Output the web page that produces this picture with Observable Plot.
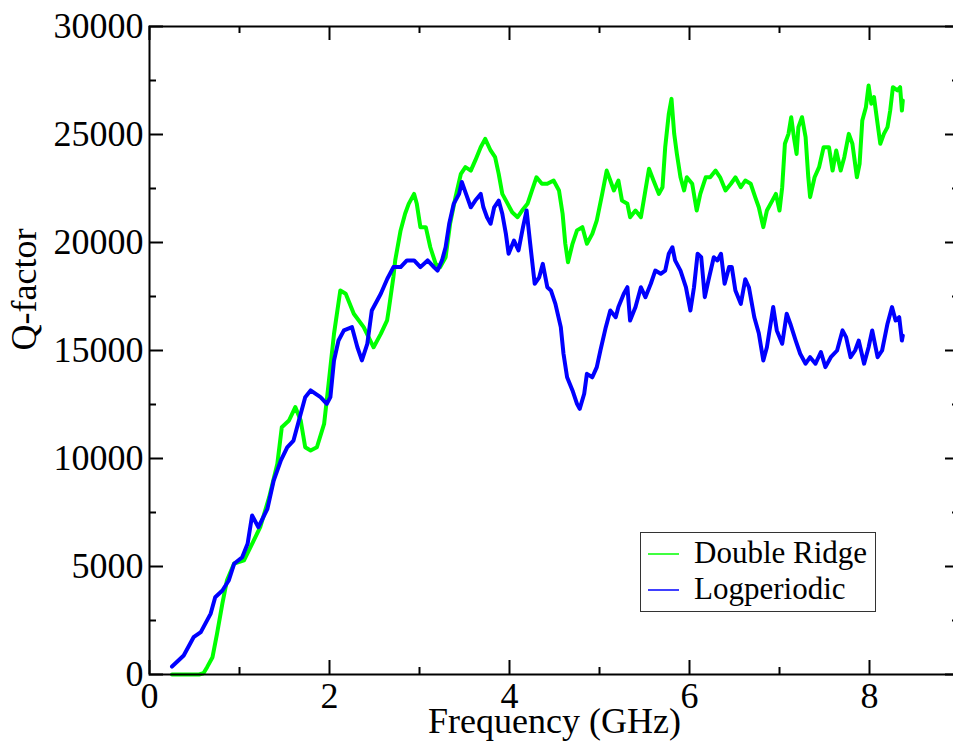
<!DOCTYPE html>
<html><head><meta charset="utf-8">
<script src="https://cdn.jsdelivr.net/npm/d3@7"></script>
<script src="https://cdn.jsdelivr.net/npm/@observablehq/plot@0.6"></script>
<style>
html,body{margin:0;padding:0;background:#fff;overflow:hidden}
#wrap{position:relative;width:953px;height:749px;overflow:hidden}
#legend{position:absolute;left:640px;top:532px;width:234px;height:78px;border:1.5px solid #333;background:#fff}
</style></head><body><div id="wrap"></div><script>
// Series names and colours
const seriesNames = ["Double Ridge", "Logperiodic"];
const seriesColors = ["#00ff00", "#0000ff"];

// Double Ridge (green) : frequency (GHz) and Q-factor
const freqDR = [0.25,0.40,0.55,0.60,0.64,0.70,0.75,0.81,0.86,0.94,1.05,1.14,1.23,1.33,1.42,1.47,1.55,1.62,1.68,1.73,1.79,1.86,1.94,1.99,2.05,2.12,2.18,2.27,2.38,2.49,2.57,2.64,2.66,2.71,2.73,2.79,2.84,2.88,2.94,2.97,3.01,3.07,3.12,3.18,3.23,3.29,3.34,3.40,3.46,3.51,3.57,3.62,3.68,3.73,3.79,3.84,3.88,3.92,3.97,4.03,4.09,4.14,4.20,4.25,4.30,4.36,4.42,4.49,4.55,4.59,4.62,4.65,4.70,4.75,4.81,4.86,4.92,4.97,5.03,5.08,5.12,5.16,5.21,5.25,5.31,5.34,5.40,5.46,5.51,5.55,5.60,5.66,5.70,5.73,5.77,5.80,5.83,5.86,5.90,5.94,5.97,6.03,6.08,6.12,6.18,6.23,6.29,6.34,6.40,6.46,6.51,6.57,6.62,6.68,6.73,6.77,6.82,6.86,6.92,6.96,7.00,7.03,7.06,7.10,7.13,7.16,7.19,7.21,7.25,7.29,7.32,7.34,7.39,7.44,7.49,7.55,7.59,7.63,7.68,7.72,7.77,7.81,7.84,7.86,7.89,7.92,7.96,7.99,8.02,8.05,8.09,8.12,8.16,8.20,8.23,8.26,8.31,8.34,8.36,8.37];
const qDR = [0,0,0,60,340,800,1880,3290,4350,5140,5280,6050,6820,8210,9750,11450,11760,12380,11760,10520,10370,10520,11600,13460,15770,17780,17630,16700,16080,15150,15770,16390,16930,18400,19170,20560,21330,21790,22250,21790,20710,20710,19780,19010,18860,19320,20870,22100,23180,23490,23330,23800,24410,24800,24260,23950,23180,22250,21870,21400,21170,21480,21790,22410,23020,22720,22720,22870,22410,21330,19940,19090,19940,20560,20710,19940,20400,21020,22250,23330,22870,22410,22870,21940,21790,21170,21480,21170,22410,23410,22870,22250,22560,24410,25960,26650,25030,24100,23020,22410,23020,22720,21480,22250,23020,23020,23330,23020,22410,22720,23020,22560,22870,22720,22100,21630,20710,21480,21940,22250,21480,22560,24570,25030,25800,24880,24100,25340,25800,24880,23020,22100,23020,23490,24410,24410,23330,24260,23330,23950,25030,24570,23640,23020,23640,25650,26260,27270,26420,26730,25490,24570,25030,25340,26110,27190,27040,27190,26110,26570];

// Logperiodic (blue)
const freqLP = [0.25,0.38,0.49,0.57,0.68,0.73,0.81,0.88,0.94,1.03,1.09,1.14,1.21,1.31,1.38,1.46,1.53,1.60,1.66,1.73,1.79,1.90,1.97,2.01,2.05,2.10,2.16,2.25,2.31,2.36,2.42,2.47,2.57,2.64,2.71,2.79,2.86,2.94,3.01,3.09,3.16,3.20,3.25,3.29,3.33,3.38,3.44,3.47,3.51,3.57,3.62,3.68,3.71,3.75,3.79,3.83,3.88,3.92,3.96,3.99,4.05,4.10,4.15,4.19,4.23,4.28,4.33,4.37,4.42,4.46,4.51,4.57,4.60,4.64,4.70,4.75,4.78,4.83,4.86,4.92,4.97,5.01,5.07,5.12,5.18,5.21,5.27,5.31,5.34,5.40,5.46,5.51,5.57,5.62,5.68,5.73,5.77,5.81,5.84,5.90,5.96,6.01,6.05,6.09,6.13,6.17,6.21,6.27,6.31,6.35,6.39,6.44,6.47,6.51,6.57,6.62,6.66,6.72,6.77,6.82,6.86,6.93,6.97,7.03,7.08,7.12,7.18,7.23,7.29,7.34,7.40,7.46,7.51,7.57,7.64,7.70,7.74,7.79,7.84,7.88,7.94,7.99,8.03,8.09,8.14,8.20,8.25,8.29,8.33,8.36,8.37];
const qLP = [370,880,1727,1960,2820,3580,3890,4350,5125,5430,6050,7360,6820,7670,8980,9910,10520,10830,11760,12840,13150,12840,12530,12840,14540,15460,15930,16080,15150,14540,15310,16850,17630,18300,18860,18860,19170,19170,18860,19170,18860,18700,19170,19780,20870,21790,22250,22800,22330,21630,21940,22250,21630,21170,20870,21630,21940,21330,20400,19480,20090,19630,20710,21480,19940,18090,18390,19010,17930,17780,17160,16080,14850,13760,13150,12530,12300,13000,13920,13760,14230,15000,16080,16850,16540,17010,17630,17930,16390,17010,17930,17470,18090,18700,18550,18700,19480,19780,19170,18700,17930,16850,17930,19480,19320,17470,18240,19320,19170,19480,18090,18860,18860,17780,17160,18300,17930,16540,15800,14540,15150,17010,15930,15310,16700,16240,15460,14850,14390,14690,14390,14930,14230,14690,15000,15930,15620,14690,15000,15460,14390,15150,15930,14690,15000,16240,17010,16390,16540,15460,15690];

// Axis ticks
const xMajorTicks = [0,2,4,6,8];
const xMinorTicks = [1,3,5,7,9];
const yMajorTicks = [0,5000,10000,15000,20000,25000,30000];
const yMinorTicks = [2500,7500,12500,17500,22500,27500];

const xLabel = "Frequency (GHz)";
const yLabel = "Q-factor";

const dr = freqDR.map((f,i)=>({f, q:qDR[i]}));
const lp = freqLP.map((f,i)=>({f, q:qLP[i]}));

const W=953,H=749,mL=149,mR=-6,mT=26,mB=75;
const pw = W-mL-mR, ph = H-mT-mB;
const font = "'Liberation Serif','Times New Roman',serif";
const tk = {stroke:"black", strokeWidth:2};

const chart = Plot.plot({
  width:W, height:H, marginLeft:mL, marginRight:mR, marginTop:mT, marginBottom:mB,
  x:{domain:[0,9], axis:null},
  y:{domain:[0,30000], axis:null},
  style:{fontFamily:font, background:"white", color:"black", overflow:"visible"},
  marks:[
    Plot.line(dr,{x:"f",y:"q",stroke:seriesColors[0],strokeWidth:4}),
    Plot.line(lp,{x:"f",y:"q",stroke:seriesColors[1],strokeWidth:4}),
    Plot.frame({stroke:"black",strokeWidth:2}),
    Plot.tickY(yMajorTicks,{y:d=>d,insetRight:pw-14,...tk}),
    Plot.tickY(yMinorTicks,{y:d=>d,insetRight:pw-7,...tk}),
    Plot.tickY(yMajorTicks,{y:d=>d,insetLeft:pw-14,...tk}),
    Plot.tickY(yMinorTicks,{y:d=>d,insetLeft:pw-7,...tk}),
    Plot.tickX(xMajorTicks,{x:d=>d,insetTop:ph-14,...tk}),
    Plot.tickX(xMinorTicks,{x:d=>d,insetTop:ph-7,...tk}),
    Plot.tickX(xMajorTicks,{x:d=>d,insetBottom:ph-14,...tk}),
    Plot.tickX(xMinorTicks,{x:d=>d,insetBottom:ph-7,...tk}),
    Plot.axisX(xMajorTicks,{tickSize:0,tickPadding:8,fontSize:36,label:null,tickFormat:d=>String(d)}),
    Plot.axisY(yMajorTicks,{tickSize:0,tickPadding:6,fontSize:36,label:null,tickFormat:d=>String(d)}),
    Plot.text([xLabel],{frameAnchor:"bottom",dy:58,fontSize:36,text:d=>d}),
    Plot.text([yLabel],{frameAnchor:"left",rotate:-90,dx:-125,fontSize:36,text:d=>d})
  ]
});
const wrap = document.getElementById("wrap");
wrap.appendChild(chart);

// Legend box inside the plot
const leg = d3.select(wrap).append("div").attr("id","legend");
const lsvg = leg.append("svg").attr("width",234).attr("height",78).style("display","block");
seriesNames.forEach((name,i)=>{
  const cy = 21 + i*36;
  lsvg.append("line").attr("x1",7).attr("x2",38).attr("y1",cy).attr("y2",cy)
    .attr("stroke",seriesColors[i]).attr("stroke-width",1.5);
  lsvg.append("text").attr("x",53).attr("y",cy+9).attr("font-family",font)
    .attr("font-size",31).attr("fill","black").text(name);
});
</script></body></html>
